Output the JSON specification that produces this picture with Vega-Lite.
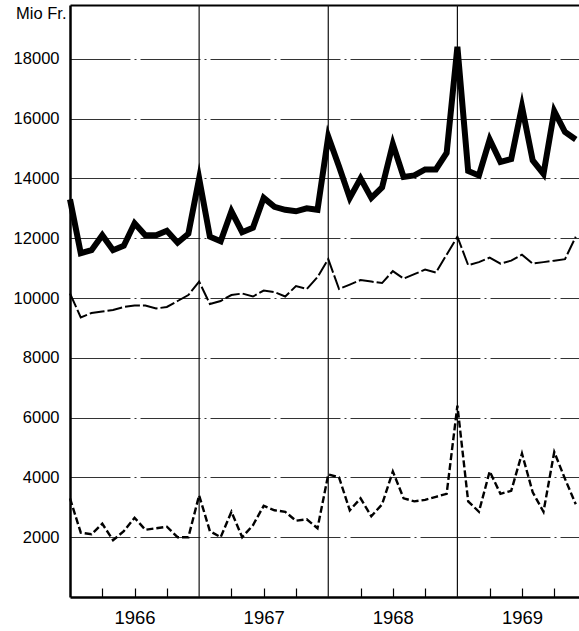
{
  "$schema": "https://vega.github.io/schema/vega-lite/v6.json",
  "width": 509,
  "height": 592,
  "autosize": {"type": "none"},
  "padding": {"left": 70, "top": 5, "right": 0, "bottom": 34},
  "background": "white",
  "config": {"view": {"stroke": null}},
  "resolve": {"axis": {"x": "independent", "y": "independent"}},
  "datasets": {
    "monthly": [
      {"m": 0, "A": 13300, "B": 10150, "C": 3300},
      {"m": 1, "A": 11500, "B": 9350, "C": 2150},
      {"m": 2, "A": 11600, "B": 9500, "C": 2100},
      {"m": 3, "A": 12100, "B": 9550, "C": 2450},
      {"m": 4, "A": 11600, "B": 9600, "C": 1900},
      {"m": 5, "A": 11750, "B": 9700, "C": 2200},
      {"m": 6, "A": 12500, "B": 9750, "C": 2650},
      {"m": 7, "A": 12100, "B": 9750, "C": 2250},
      {"m": 8, "A": 12100, "B": 9650, "C": 2300},
      {"m": 9, "A": 12250, "B": 9700, "C": 2350},
      {"m": 10, "A": 11850, "B": 9900, "C": 2000},
      {"m": 11, "A": 12150, "B": 10100, "C": 2000},
      {"m": 12, "A": 14000, "B": 10550, "C": 3400},
      {"m": 13, "A": 12050, "B": 9800, "C": 2200},
      {"m": 14, "A": 11900, "B": 9900, "C": 2000},
      {"m": 15, "A": 12900, "B": 10100, "C": 2850},
      {"m": 16, "A": 12200, "B": 10150, "C": 2000},
      {"m": 17, "A": 12350, "B": 10050, "C": 2400},
      {"m": 18, "A": 13350, "B": 10250, "C": 3050},
      {"m": 19, "A": 13050, "B": 10200, "C": 2900},
      {"m": 20, "A": 12950, "B": 10050, "C": 2850},
      {"m": 21, "A": 12900, "B": 10400, "C": 2550},
      {"m": 22, "A": 13000, "B": 10300, "C": 2600},
      {"m": 23, "A": 12950, "B": 10700, "C": 2300},
      {"m": 24, "A": 15400, "B": 11300, "C": 4100},
      {"m": 25, "A": 14400, "B": 10300, "C": 4000},
      {"m": 26, "A": 13350, "B": 10450, "C": 2900},
      {"m": 27, "A": 14000, "B": 10600, "C": 3300},
      {"m": 28, "A": 13350, "B": 10550, "C": 2700},
      {"m": 29, "A": 13700, "B": 10500, "C": 3100},
      {"m": 30, "A": 15150, "B": 10900, "C": 4200},
      {"m": 31, "A": 14050, "B": 10650, "C": 3300},
      {"m": 32, "A": 14100, "B": 10800, "C": 3200},
      {"m": 33, "A": 14300, "B": 10950, "C": 3250},
      {"m": 34, "A": 14300, "B": 10850, "C": 3350},
      {"m": 35, "A": 14850, "B": 11450, "C": 3450},
      {"m": 36, "A": 18400, "B": 12050, "C": 6400},
      {"m": 37, "A": 14250, "B": 11100, "C": 3200},
      {"m": 38, "A": 14100, "B": 11200, "C": 2850},
      {"m": 39, "A": 15300, "B": 11350, "C": 4200},
      {"m": 40, "A": 14550, "B": 11150, "C": 3450},
      {"m": 41, "A": 14650, "B": 11250, "C": 3550},
      {"m": 42, "A": 16400, "B": 11450, "C": 4800},
      {"m": 43, "A": 14600, "B": 11150, "C": 3500},
      {"m": 44, "A": 14150, "B": 11200, "C": 2850},
      {"m": 45, "A": 16250, "B": 11250, "C": 4850},
      {"m": 46, "A": 15550, "B": 11300, "C": 3950},
      {"m": 47, "A": 15300, "B": 12050, "C": 3100}
    ]
  },
  "layer": [
    {
      "data": {"values": [{"boundary": 12}, {"boundary": 24}, {"boundary": 36}]},
      "mark": {"type": "rule", "color": "#111", "strokeWidth": 1.2},
      "encoding": {
        "x": {
          "field": "boundary", "type": "quantitative",
          "scale": {"domain": [0, 47.3], "nice": false, "zero": false},
          "axis": {"orient": "top", "labels": false, "ticks": false, "grid": false, "title": null, "domainColor": "black", "domainWidth": 2}
        }
      }
    },
    {
      "data": {"name": "monthly"},
      "mark": {"type": "line", "color": "black", "strokeWidth": 2.4, "strokeDash": [7, 3]},
      "encoding": {
        "x": {
          "field": "m", "type": "quantitative",
          "scale": {"domain": [0, 47.3], "nice": false, "zero": false},
          "axis": {
            "orient": "bottom",
            "values": [3, 6, 9, 15, 18, 21, 27, 30, 33, 39, 42, 45],
            "tickSize": -9, "tickColor": "black", "tickWidth": 1.2,
            "labelExpr": "datum.value % 12 == 6 ? '' + (1966 + floor(datum.value / 12)) : ''",
            "labelFont": "Liberation Sans, sans-serif",
            "labelFontSize": 18.5, "labelColor": "black",
            "labelBaseline": "middle", "labelPadding": 29,
            "labelOverlap": false, "labelFlush": false,
            "domainColor": "black", "domainWidth": 2.5,
            "grid": false, "title": null
          }
        },
        "y": {
          "field": "C", "type": "quantitative",
          "scale": {"domain": [0, 19800], "nice": false},
          "axis": {
            "values": [2000, 4000, 6000, 8000, 10000, 12000, 14000, 16000, 18000],
            "format": "d",
            "grid": true, "gridColor": "#333", "gridWidth": 1, "gridDash": [60, 4, 2, 4],
            "ticks": false,
            "domainColor": "black", "domainWidth": 2.5,
            "labelFont": "Liberation Sans, sans-serif", "labelFontSize": 16.5, "labelColor": "black",
            "labelPadding": 11,
            "title": "Mio Fr.", "titleAngle": 0, "titleAlign": "right", "titleBaseline": "middle",
            "titleX": -4, "titleY": 8,
            "titleFont": "Liberation Sans, sans-serif", "titleFontSize": 16.5, "titleFontWeight": "normal", "titleColor": "black"
          }
        }
      }
    },
    {
      "data": {"name": "monthly"},
      "mark": {"type": "line", "color": "black", "strokeWidth": 2, "strokeDash": [15, 3]},
      "encoding": {
        "x": {"field": "m", "type": "quantitative", "scale": {"domain": [0, 47.3], "nice": false, "zero": false}, "axis": null},
        "y": {"field": "B", "type": "quantitative", "scale": {"domain": [0, 19800], "nice": false}, "axis": null}
      }
    },
    {
      "data": {"name": "monthly"},
      "mark": {"type": "line", "color": "black", "strokeWidth": 6, "strokeJoin": "miter", "strokeMiterLimit": 6},
      "encoding": {
        "x": {"field": "m", "type": "quantitative", "scale": {"domain": [0, 47.3], "nice": false, "zero": false}, "axis": null},
        "y": {"field": "A", "type": "quantitative", "scale": {"domain": [0, 19800], "nice": false}, "axis": null}
      }
    }
  ]
}
